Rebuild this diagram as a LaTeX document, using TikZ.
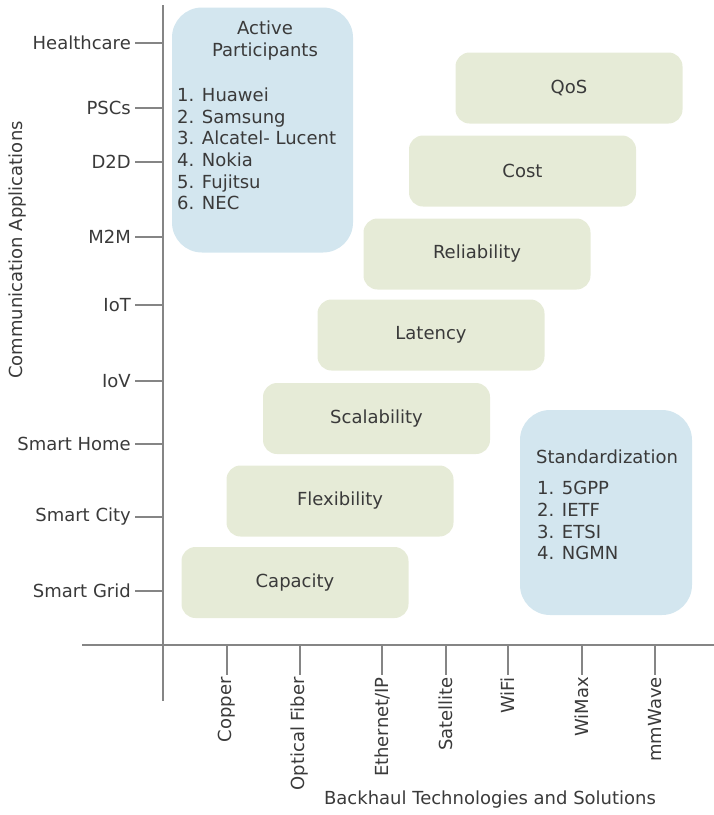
\documentclass[tikz,border=0pt]{standalone}
\usepackage{fontspec}
\setmainfont{DejaVu Sans}
\definecolor{boxgreen}{HTML}{E6EBD7}
\definecolor{boxblue}{HTML}{D3E6EF}
\definecolor{txtgray}{HTML}{3A3A3A}
\definecolor{axisgray}{HTML}{858585}

\begin{document}
\begin{tikzpicture}
		[x=1pt, y=-1pt,
		every node/.style={text=txtgray, inner sep=0pt, font=\fontsize{18}{21.7}\selectfont},
		trait box/.style={rectangle, rounded corners=14pt, fill=boxgreen, minimum width=227pt, minimum height=71pt},
		list box/.style={rectangle, rounded corners=30pt, fill=boxblue},
		axis line/.style={draw=axisgray, line width=1.4pt},
		tick line/.style={draw=axisgray, line width=1.2pt},
		app label/.style={anchor=east},
		tech label/.style={anchor=east, rotate=90}]
		\useasboundingbox (0,0) rectangle (714,815);

		% axes
		\coordinate (ytop) at (163,5);
		\coordinate (ybottom) at (163,701);
		\coordinate (xleft) at (82,645);
		\coordinate (xright) at (714,645);
		\draw[axis line] (ytop) -- (ybottom);
		\draw[axis line] (xleft) -- (xright);

		\foreach \name/\y [count=\i] in {Healthcare/43, PSCs/108, D2D/162, M2M/237, IoT/305, IoV/381, Smart Home/444, Smart City/517, Smart Grid/591}{
			\node[app label] (app\i) at (131,\y) {\name};
			\coordinate (ytick\i) at (163,\y);
			\draw[tick line] ([xshift=4pt]app\i.east) -- (ytick\i);
		}
		\foreach \name/\x [count=\i] in {Copper/227, Optical Fiber/300, {Ethernet/IP}/382, Satellite/446, WiFi/508, WiMax/582, mmWave/655}{
			\coordinate (xtick\i) at (\x,645);
			\node[tech label] (tech\i) at (\x,677) {\name};
			\draw[tick line] (xtick\i) -- ([yshift=2pt]tech\i.east);
		}
		\node[rotate=90] (apps title) at (18,250) {Communication Applications};
		\node (tech title) at (490,800) {Backhaul Technologies and Solutions};

		% trade-off boxes
		\node[trait box] (qos) at (569,88) {QoS};
		\node[trait box] (cost) at (522.5,171) {Cost};
		\node[trait box] (reliability) at (477,254) {Reliability};
		\node[trait box] (latency) at (431,335) {Latency};
		\node[trait box] (scalability) at (376.5,418.5) {Scalability};
		\node[trait box] (flexibility) at (340,501) {Flexibility};
		\node[trait box] (capacity) at (295,582.5) {Capacity};

		% active participants
		\node[list box, minimum width=181pt, minimum height=245pt] (participants) at (262.5,130) {};
		\node[anchor=base] (participants head1) at (265,34.4) {Active};
		\node[anchor=base] (participants head2) at (265,56.4) {Participants};
		\foreach \who [count=\k] in {Huawei, Samsung, Alcatel- Lucent, Nokia, Fujitsu, NEC}{
			\node[anchor=base west] (participant\k) at (177,101.6+21.6*\k-21.6) {\k. \who};
		}

		% standardization
		\node[list box, minimum width=172pt, minimum height=205pt] (standards) at (606,512.5) {};
		\node[anchor=base] (standards head) at (607,463.6) {Standardization};
		\foreach \body [count=\k] in {5GPP, IETF, ETSI, NGMN}{
			\node[anchor=base west] (standard\k) at (537,494.6+21.7*\k-21.7) {\k. \body};
		}
		\end{tikzpicture}
\end{document}
